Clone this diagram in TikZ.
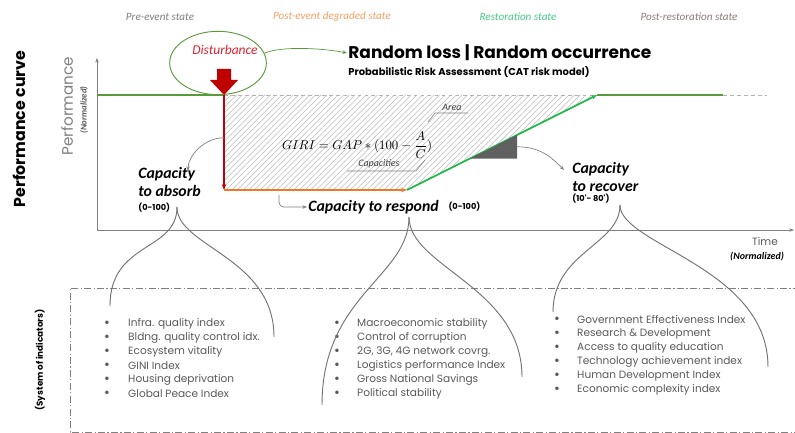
\documentclass[tikz,border=0pt]{standalone}
\usepackage{amsmath}
\usepackage{fontspec}
\setmainfont{Carlito}
\newfontfamily\gothic{Poppins}
\usetikzlibrary{arrows.meta,positioning,calc,shapes.geometric,patterns.meta}

\definecolor{flatgreen}{HTML}{5A9A3C}
\definecolor{risegreen}{HTML}{1FB548}
\definecolor{lossred}{HTML}{C00000}
\definecolor{distred}{HTML}{E0202E}
\definecolor{resporange}{HTML}{F07828}
\definecolor{hdrgray}{HTML}{7F7F7F}
\definecolor{hdrorange}{HTML}{F4A066}
\definecolor{hdrgreen}{HTML}{44C98A}
\definecolor{hdrbrown}{HTML}{8A7A7A}
\definecolor{itemgray}{HTML}{595959}

\begin{document}
\begin{tikzpicture}[
  x=0.03cm, y=-0.03cm,
  hdr/.style={font=\itshape\fontsize{9.5}{11}\selectfont},
  capbox/.style={font=\bfseries\itshape\fontsize{13.5}{15}\selectfont, align=left, inner sep=1pt},
  rng/.style={font=\gothic\bfseries\fontsize{7}{8}\selectfont, inner sep=1pt},
  item/.style={font=\gothic\fontsize{9}{10}\selectfont, text=itemgray, anchor=west, inner sep=0pt},
  bul/.style={font=\gothic\fontsize{12}{12}\selectfont, text=itemgray, inner sep=0pt},
  leg/.style={draw=gray!90!black, line width=0.8pt},
  pointer/.style={draw=gray, -{Stealth[length=4pt]}, line width=0.6pt},
  note/.style={font=\itshape\fontsize{8.5}{10}\selectfont, text=darkgray, inner sep=1pt},
  leader/.style={draw=gray, line width=0.5pt},
  axis/.style={draw=gray, line width=0.6pt, -{Stealth[length=4pt]}},
]
\useasboundingbox (0,0) rectangle (795,433);

% ---------- state headers ----------
\node[hdr, text=hdrgray]   (preS)  at (160,17) {Pre-event state};
\node[hdr, text=hdrorange] (degS)  at (332,17) {Post-event degraded state};
\node[hdr, text=hdrgreen]  (resS)  at (518,17) {Restoration state};
\node[hdr, text=hdrbrown]  (postS) at (689,17) {Post-restoration state};

% ---------- side labels ----------
\node[rotate=90, font=\gothic\bfseries\fontsize{13.5}{15}\selectfont] (perfCurve) at (19,129) {Performance curve};
\node[rotate=90, font=\gothic\fontsize{13}{15}\selectfont, text=gray] (perfY) at (67,106) {Performance};
\node[rotate=90, font=\bfseries\itshape\fontsize{7.5}{9}\selectfont, text=itemgray] (perfN) at (84,110) {(Normalized)};
\node[font=\gothic\fontsize{9}{11}\selectfont, text=itemgray] (timeX) at (765,242) {Time};
\node[font=\bfseries\itshape\fontsize{8.5}{10}\selectfont, anchor=west, inner sep=0pt] (timeN) at (730,257) {(Normalized)};

% ---------- axes ----------
\coordinate (orig) at (97,230);
\draw[axis] (orig) -- (97,58);
\draw[axis] (orig) -- (794,230);

% ---------- disturbance ----------
\node[ellipse, draw=flatgreen, line width=0.8pt, minimum width=2.9cm, minimum height=1.9cm] (dist) at (218,63) {};
\node[font=\itshape\fontsize{11.5}{13}\selectfont, text=distred] (distT) at (225,50) {Disturbance};
\fill[lossred] (217,69) -- (231,69) -- (231,80) -- (238,80) -- (224,95) -- (210,80) -- (217,80) -- cycle;

\node[font=\gothic\bfseries\fontsize{14.5}{17}\selectfont, anchor=west, inner sep=1pt] (riskT) at (347,53) {Random loss | Random occurrence};
\node[font=\gothic\bfseries\fontsize{8.5}{10}\selectfont, anchor=west, inner sep=1pt] (riskS) at (347,72) {Probabilistic Risk Assessment (CAT risk model)};
\draw[flatgreen, line width=0.6pt, -{Stealth[length=4pt]}] (dist.12) .. controls +(20,-8) and +(-20,-4) .. (riskT.west);

% ---------- performance curve ----------
\coordinate (c0)      at (97,95);
\coordinate (hit)     at (224,95);
\coordinate (low)     at (224,190);
\coordinate (turn)    at (407,190);
\coordinate (back)    at (597,95);
\coordinate (post)    at (723,95);
\coordinate (dashend) at (767,95);

\fill[pattern={Lines[angle=45, distance=3.4pt, line width=0.45pt]}, pattern color=gray!55] (hit) -- (back) -- (turn) -- (low) -- cycle;
\draw[gray!60, dashed, line width=0.5pt] (hit) -- (dashend);
\draw[flatgreen, line width=1.4pt] (c0) -- (hit);
\draw[flatgreen, line width=1.4pt] (back) -- (post);
\draw[lossred, line width=1.2pt, -{Stealth[length=5pt]}] (hit) -- (low);
\draw[resporange, line width=1.2pt, -{Stealth[length=5pt]}] (low) -- (turn);
\draw[risegreen, line width=1.4pt, -{Stealth[length=5pt]}] (turn) -- (back);

% recovery slope
\coordinate (triA) at ($(turn)!0.33!(back)$);
\coordinate (triB) at ($(turn)!0.58!(back)$);
\fill[gray!75!black] (triA) -- (triB) -- (triB |- triA) -- cycle;

% ---------- GIRI formula ----------
\node[font=\fontsize{11}{13}\selectfont] (giri) at (357,145) {$\displaystyle GIRI = GAP * (100 - \frac{A}{C})$};
\node[note] (areaT) at (452,107) {Area};
\draw[leader] (428,122) -- (435,113) -- (468,113);
\node[note] (capsT) at (379,164) {Capacities};
\draw[leader] (347,171) -- (416,171) -- (425,160);

% ---------- capacities ----------
\node[capbox, anchor=north west] (absT) at (137,166) {Capacity\\to absorb};
\node[rng, anchor=west] (absR) at (137,208) {(0-100)};
\coordinate (absOut) at ($(hit)!0.45!(low)$);
\coordinate (absIn) at (188,171);
\draw[pointer] (absOut) .. controls +(-20,0) and +(0,-15) .. (absIn);

\node[capbox, anchor=west] (resT) at (307,207) {Capacity to respond};
\node[rng, right=6pt of resT] (resR) {(0-100)};
\coordinate (resOut) at (279,195);
\draw[pointer, rounded corners=4pt] (resOut) |- (resT.west);

\node[capbox, anchor=north west] (recT) at (571,161) {Capacity\\to recover};
\node[rng, anchor=north west] (recR) at (recT.south west) {(10'- 80')};
\coordinate (recOut) at ($(triB)!0.5!(triB |- triA)$);
\coordinate (recIn) at (564,170);
\draw[pointer] (recOut) .. controls +(25,0) and +(-10,-10) .. (recIn);

% ---------- system of indicators ----------
\draw[gray, line width=0.6pt, dash pattern=on 6pt off 2pt on 1pt off 2pt] (800,288) -- (70,288) -- (70,432) -- (800,432);
\node[rotate=90, font=\gothic\bfseries\fontsize{7.5}{9}\selectfont] (sysInd) at (40,360) {(System of indicators)};

\foreach \t [count=\i] in {Infra. quality index, Bldng. quality control idx., Ecosystem vitality, GINI Index, Housing deprivation, Global Peace Index} {
  \node[bul]  (absB\i) at (107,{310+14*\i}) {\textbullet};
  \node[item] (absI\i) at (128,{310+14*\i}) {\t};
}
\foreach \t [count=\i] in {Macroeconomic stability, Control of corruption, {2G, 3G, 4G network covrg.}, Logistics performance Index, Gross National Savings, Political stability} {
  \node[bul]  (resB\i) at (337,{310+14*\i}) {\textbullet};
  \node[item] (resI\i) at (357,{310+14*\i}) {\t};
}
\foreach \t [count=\i] in {Government Effectiveness Index, Research \& Development, Access to quality education, Technology achievement index, Human Development Index, Economic complexity index} {
  \node[bul]  (recB\i) at (557,{306+14*\i}) {\textbullet};
  \node[item] (recI\i) at (577,{306+14*\i}) {\t};
}

% ---------- braces to indicators ----------
\coordinate (absTip) at (177,207);
\coordinate (absL) at (110,306);
\coordinate (absRt) at (274,337);
\draw[leg] (absTip) .. controls +(0,45) and +(0,-65) .. (absL);
\draw[leg] (absTip) .. controls +(0,40) and +(0,-80) .. (absRt);

\coordinate (resTip) at (409,217);
\coordinate (resL) at (322,405);
\coordinate (resRt) at (522,377);
\draw[leg] (resTip) .. controls +(0,60) and +(0,-110) .. (resL);
\draw[leg] (resTip) .. controls +(0,50) and +(0,-90) .. (resRt);

\coordinate (recTip) at (620,205);
\coordinate (recL) at (553,312);
\coordinate (recRt) at (768,367);
\draw[leg] (recTip) .. controls +(0,40) and +(0,-60) .. (recL);
\draw[leg] (recTip) .. controls +(0,40) and +(0,-100) .. (recRt);
\end{tikzpicture}
\end{document}
